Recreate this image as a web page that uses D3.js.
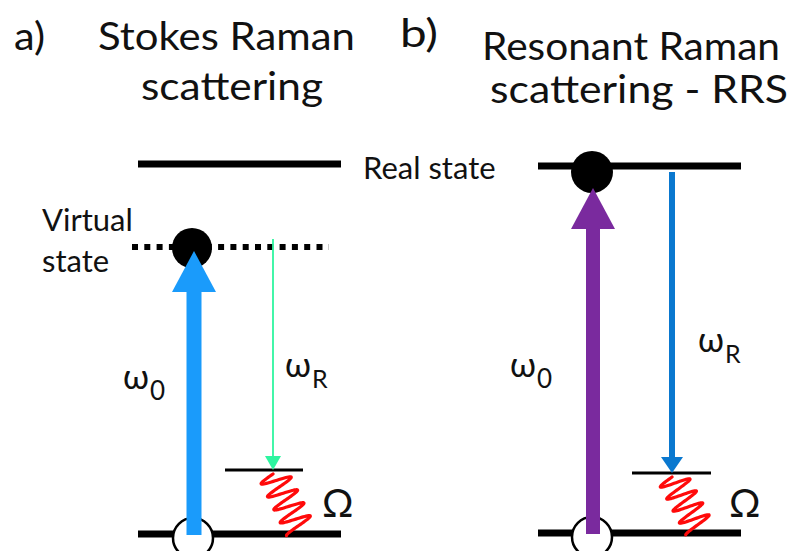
<!DOCTYPE html>
<html><head><meta charset="utf-8">
<script src="https://cdn.jsdelivr.net/npm/d3@7"></script>
<style>body{margin:0;background:#fff}svg{display:block}text{font-family:Lato,"Open Sans",sans-serif;fill:#111}</style>
</head><body><div id="c"></div>
<script>
// ---- data ----
const panels = ["a", "b"];
const titleLines = [["Stokes Raman", "scattering"], ["Resonant Raman", "scattering - RRS"]];
const panelLabels = ["a)", "b)"];
// energy levels (arbitrary energy units)
const groundLevel = [0, 0];
const phononLevel = [64, 61];
const realLevel = [370, 368];
const virtualLevel = [287, null];
const excitationTop = [283, 346];      // tip of excitation arrow
const scatterTop = [295, 362];         // start of scattered arrow
const excitationColors = ["#1a9bfb", "#7a2a9e"];
const scatterColors = ["#2ef5a0", "#0a78cf"];
const stateLabels = ["Virtual", "state", "Real state"];
const symbolLabels = ["ω", "0", "ω", "R", "Ω"];

// ---- layout ----
const W = 796, H = 551;
const svg = d3.select("#c").append("svg").attr("width", W).attr("height", H);
const y = d3.scaleLinear().domain([0, 370]).range([534, 164]);
const xr = d3.scaleLinear().domain([0, 1]).range([138, 341]); // level extent within panel

const tPos = [
  {lab:[14,50,31], l1:[98,50,257], l2:[141,100,182]},
  {lab:[400,47,38], l1:[482,60,298], l2:[490,103,298]}
];
const omPos = [{x0:123, y0:389, xr:285, yr:377}, {x0:110, y0:377, xr:298, yr:352}];

panels.forEach((p, i) => {
  const o = i === 0 ? 0 : 400;
  const g = svg.append("g").attr("transform", `translate(${o},0)`);
  const tp = tPos[i];
  // titles
  svg.append("text").attr("x", tp.lab[0]).attr("y", tp.lab[1]).attr("font-size", 38).text(panelLabels[i])
     .attr("textLength", tp.lab[2]).attr("lengthAdjust", "spacingAndGlyphs");
  svg.append("text").attr("x", tp.l1[0]).attr("y", tp.l1[1]).attr("font-size", 38).text(titleLines[i][0])
     .attr("textLength", tp.l1[2]).attr("lengthAdjust", "spacingAndGlyphs");
  svg.append("text").attr("x", tp.l2[0]).attr("y", tp.l2[1]).attr("font-size", 38).text(titleLines[i][1])
     .attr("textLength", tp.l2[2]).attr("lengthAdjust", "spacingAndGlyphs");

  const x0 = xr(0), x1 = xr(1);
  const exX = i === 0 ? 194 : 593;
  const scX = i === 0 ? 273 : 672;
  const gy = y(groundLevel[i]) + (i === 0 ? 0 : -1);

  // ground level
  g.append("line").attr("x1", x0).attr("x2", x1).attr("y1", gy).attr("y2", gy)
    .attr("stroke", "#000").attr("stroke-width", 7);
  // open circle at ground
  g.append("circle").attr("cx", exX - o - 1).attr("cy", gy + 4).attr("r", 20)
    .attr("fill", "#fff").attr("stroke", "#000").attr("stroke-width", 2.5);

  // real level
  const ry = y(realLevel[i]);
  g.append("line").attr("x1", x0).attr("x2", x1).attr("y1", ry).attr("y2", ry)
    .attr("stroke", "#000").attr("stroke-width", 7);

  // virtual level (dotted)
  if (virtualLevel[i] !== null) {
    const vy = y(virtualLevel[i]);
    g.append("line").attr("x1", 132).attr("x2", 329).attr("y1", vy).attr("y2", vy)
      .attr("stroke", "#000").attr("stroke-width", 6).attr("stroke-dasharray", "6,6.3");
    g.append("circle").attr("cx", exX - o - 2).attr("cy", vy + 1).attr("r", 20).attr("fill", "#000");
  } else {
    g.append("circle").attr("cx", exX - o - 1).attr("cy", ry + 6).attr("r", 21).attr("fill", "#000");
  }

  // phonon level
  const phy = y(phononLevel[i]);
  const phx0 = i === 0 ? 225 : 232, phx1 = i === 0 ? 303 : 311;
  g.append("line").attr("x1", phx0).attr("x2", phx1).attr("y1", phy).attr("y2", phy)
    .attr("stroke", "#000").attr("stroke-width", 3);

  // excitation arrow (thick)
  const tipY = y(excitationTop[i]);
  const headH = 41, headW = 44, shaftW = i === 0 ? 15 : 14;
  const ex = exX - o;
  g.append("rect").attr("x", ex - shaftW / 2).attr("y", tipY + headH - 1)
    .attr("width", shaftW).attr("height", gy + 1 - (tipY + headH - 1)).attr("fill", excitationColors[i]);
  g.append("path").attr("d", `M${ex},${tipY} L${ex + headW / 2},${tipY + headH} L${ex - headW / 2},${tipY + headH} Z`)
    .attr("fill", excitationColors[i]);

  // scattered arrow
  const sx = scX - o;
  const sTop = y(scatterTop[i]);
  const sw = i === 0 ? 1.8 : 6;
  const sh = i === 0 ? 14 : 16, shw = i === 0 ? 16 : 22;
  g.append("line").attr("x1", sx).attr("x2", sx).attr("y1", sTop).attr("y2", phy - sh + 2)
    .attr("stroke", scatterColors[i]).attr("stroke-width", sw);
  g.append("path").attr("d", `M${sx},${phy} L${sx + shw / 2},${phy - sh} L${sx - shw / 2},${phy - sh} Z`)
    .attr("fill", scatterColors[i]);

  // spring (phonon)
  const sp0 = [sx, phy + 4], sp1 = [sx + 27, gy - 5];
  const dx = sp1[0] - sp0[0], dy = sp1[1] - sp0[1];
  const L = Math.hypot(dx, dy), nx = -dy / L, ny = dx / L;
  const pts = d3.range(0, 1.0001, 0.005).map(t => {
    const a = 15 * Math.sin(t * Math.PI * 2 * 4.25);
    return [sp0[0] + dx * t + nx * a, sp0[1] + dy * t + ny * a];
  });
  g.append("path").attr("d", d3.line()(pts))
    .attr("fill", "none").attr("stroke", "#ff0a0a").attr("stroke-width", 3.2)
    .attr("stroke-linejoin", "round").attr("stroke-linecap", "round");

  // symbol labels
  const op = omPos[i];
  const om = g.append("text").attr("x", op.x0).attr("y", op.y0).attr("font-size", 34);
  om.append("tspan").text(symbolLabels[0]);
  om.append("tspan").attr("font-size", 26).attr("dy", 11).attr("dx", 1).text(symbolLabels[1]);
  const orr = g.append("text").attr("x", op.xr).attr("y", op.yr).attr("font-size", 34);
  orr.append("tspan").text(symbolLabels[2]);
  orr.append("tspan").attr("font-size", 25).attr("dy", 11).attr("dx", 1).text(symbolLabels[3]);
  g.append("text").attr("x", i === 0 ? 322 : 329).attr("y", 517).attr("font-size", 39).text(symbolLabels[4]);
});

// state labels
svg.append("text").attr("x", 42).attr("y", 231).attr("font-size", 31).text(stateLabels[0]);
svg.append("text").attr("x", 42).attr("y", 272).attr("font-size", 31).text(stateLabels[1]);
svg.append("text").attr("x", 363).attr("y", 179).attr("font-size", 31).text(stateLabels[2]);
</script></body></html>
